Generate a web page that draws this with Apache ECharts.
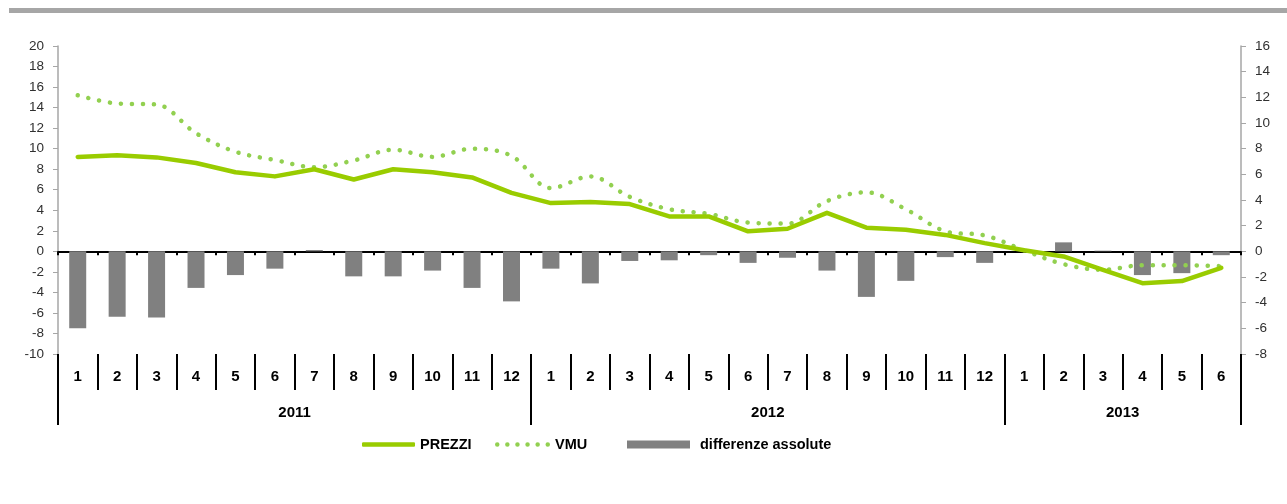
<!DOCTYPE html>
<html>
<head>
<meta charset="utf-8">
<script src="https://cdn.jsdelivr.net/npm/echarts@6/dist/echarts.min.js"></script>
<style>
html,body{margin:0;padding:0;background:#fff;}
#chart{width:1287px;height:504px;}
</style>
</head>
<body>
<div id="chart"></div>
<script>
const months = ['1','2','3','4','5','6','7','8','9','10','11','12','1','2','3','4','5','6','7','8','9','10','11','12','1','2','3','4','5','6'];
const years = ['2011','2012','2013'];
const yearStart = [0, 12, 24, 30];
const yearMid = [6, 18, 27];
const prezzi = [9.2, 9.35, 9.15, 8.6, 7.7, 7.3, 8.0, 7.0, 8.0, 7.7, 7.2, 5.7, 4.7, 4.8, 4.6, 3.4, 3.4, 1.95, 2.2, 3.75, 2.3, 2.1, 1.6, 0.8, 0.1, -0.5, -1.8, -3.1, -2.9, -1.6];
const vmu = [15.2, 14.4, 14.3, 11.5, 9.7, 8.9, 8.2, 8.85, 9.9, 9.2, 10.0, 9.3, 6.15, 7.3, 5.3, 4.1, 3.65, 2.8, 2.7, 4.9, 5.75, 4.1, 1.95, 1.55, 0.1, -1.25, -1.8, -1.35, -1.35, -1.45];
const diff = [-6.0, -5.1, -5.15, -2.85, -1.85, -1.35, 0.1, -1.95, -1.95, -1.5, -2.85, -3.9, -1.35, -2.5, -0.75, -0.7, -0.3, -0.9, -0.5, -1.5, -3.55, -2.3, -0.45, -0.9, 0, 0.7, 0.05, -1.85, -1.7, -0.3];

const FONT = '"Liberation Sans", Arial, sans-serif';

// legend icon for the dotted line: six round dots
let dotPath = '';
for (let i = 0; i < 6; i++) {
  const cx = 2.25 + i * 10.1;
  dotPath += 'M' + (cx - 2.25) + ',2.25 A2.25,2.25 0 1,1 ' + (cx + 2.25) + ',2.25 A2.25,2.25 0 1,1 ' + (cx - 2.25) + ',2.25 Z ';
}
const legendText = {fontFamily: FONT, fontWeight: 'bold', fontSize: 14.5, color: '#000'};

const chart = echarts.init(document.getElementById('chart'), null, {renderer: 'canvas'});
chart.setOption({
  animation: false,
  backgroundColor: '#fff',
  textStyle: {fontFamily: FONT},
  graphic: [{
    type: 'rect', left: 9, top: 8, shape: {width: 1278, height: 5},
    style: {fill: '#A6A6A6'}
  }],
  grid: {left: 58, right: 46, top: 46, height: 308},
  legend: [
    {left: 362, top: 437, padding: 0, itemWidth: 53, itemHeight: 4.5,
     data: [{name: 'PREZZI', icon: 'roundRect'}], textStyle: legendText},
    {left: 495, top: 437, padding: 0, itemWidth: 55, itemHeight: 4.5,
     data: [{name: 'VMU', icon: 'path://' + dotPath}], textStyle: legendText},
    {left: 627, top: 437, padding: 0, itemWidth: 63, itemHeight: 8,
     data: [{name: 'differenze assolute', icon: 'rect'}],
     textStyle: Object.assign({}, legendText, {padding: [0, 0, 0, 5]})}
  ],
  xAxis: [
    {
      type: 'category', data: months, position: 'bottom',
      axisLine: {onZero: true, onZeroAxisIndex: 0, lineStyle: {color: '#000', width: 2}},
      axisTick: {show: true, length: 4, interval: 0, lineStyle: {color: '#000', width: 2}},
      axisLabel: {show: false},
      splitLine: {show: false}
    },
    {
      type: 'category', data: months, position: 'bottom', offset: 0,
      axisLine: {show: false, onZero: false},
      axisTick: {show: true, length: 36, interval: 0, lineStyle: {color: '#000', width: 2}},
      axisLabel: {show: true, interval: 0, margin: 15, fontFamily: FONT, fontWeight: 'bold', fontSize: 15, color: '#000'},
      splitLine: {show: false}
    },
    {
      type: 'value', min: 0, max: 30, interval: 6, position: 'bottom', offset: 0,
      axisLine: {show: false, onZero: false},
      axisTick: {show: true, length: 71, customValues: yearStart, lineStyle: {color: '#000', width: 2}},
      axisLabel: {show: true, margin: 51, customValues: yearMid, fontFamily: FONT, fontWeight: 'bold', fontSize: 15, color: '#000',
        formatter: function (v) { const i = yearMid.indexOf(v); return i >= 0 ? years[i] : ''; }},
      splitLine: {show: false}
    }
  ],
  yAxis: [
    {
      type: 'value', min: -10, max: 20, interval: 2, position: 'left',
      axisLine: {show: true, lineStyle: {color: '#A6A6A6', width: 1.5}},
      axisTick: {show: true, length: 5, lineStyle: {color: '#A6A6A6'}},
      axisLabel: {margin: 14, fontFamily: FONT, fontSize: 13.5, color: '#303030'},
      splitLine: {show: false}
    },
    {
      type: 'value', min: -8, max: 16, interval: 2, position: 'right',
      axisLine: {show: true, lineStyle: {color: '#A6A6A6', width: 1.5}},
      axisTick: {show: true, length: 5, lineStyle: {color: '#A6A6A6'}},
      axisLabel: {margin: 14, fontFamily: FONT, fontSize: 13.5, color: '#303030'},
      splitLine: {show: false}
    }
  ],
  series: [
    {
      name: 'differenze assolute', type: 'bar', xAxisIndex: 0, yAxisIndex: 1,
      data: diff, barWidth: 17, itemStyle: {color: '#808080'}, z: 1
    },
    {
      name: 'VMU', type: 'line', xAxisIndex: 0, yAxisIndex: 0, data: vmu,
      symbol: 'none', smooth: 0.35,
      lineStyle: {color: '#92D050', width: 4.5, type: [0.1, 10.9], cap: 'round'},
      itemStyle: {color: '#92D050'}, z: 3
    },
    {
      name: 'PREZZI', type: 'line', xAxisIndex: 0, yAxisIndex: 0, data: prezzi,
      symbol: 'none', smooth: false,
      lineStyle: {color: '#99CC00', width: 4.5, cap: 'round', join: 'round'},
      itemStyle: {color: '#99CC00'}, z: 4
    }
  ]
});
</script>
</body>
</html>
